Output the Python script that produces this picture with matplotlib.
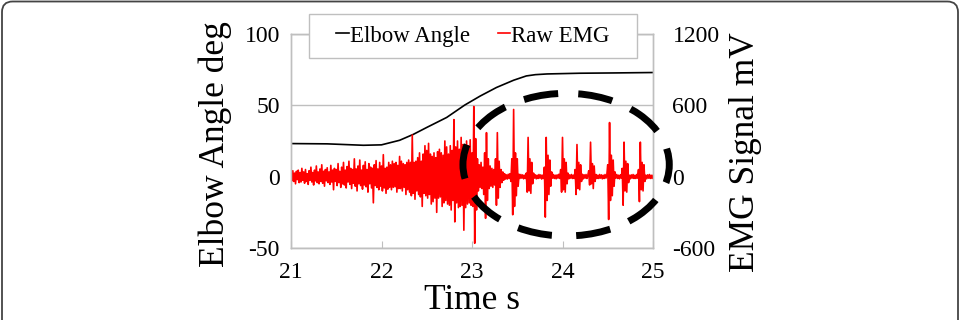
"""
Elbow angle and raw EMG signal vs time.
"""

import numpy as np
import matplotlib
matplotlib.use('Agg')
import matplotlib.pyplot as plt
from matplotlib.patches import Ellipse, Rectangle, FancyBboxPatch

plt.rcParams['font.family'] = ['Liberation Serif', 'DejaVu Serif']
plt.rcParams['axes.unicode_minus'] = False

# elbow angle (deg)
angle_t = [21.0, 21.4, 21.8, 22.0, 22.2, 22.35, 22.5, 22.72, 22.92, 23.09,
           23.27, 23.46, 23.6, 23.7, 23.83, 24.19, 24.56, 25.0]
angle = [23.2, 23.0, 22.0, 22.3, 25.5, 29.6, 34.5, 41.5, 50.2, 56.5,
         62.5, 67.6, 70.6, 71.5, 72.0, 72.5, 72.7, 73.0]

# raw EMG (mV), one value every 0.01 s
emg_21 = [20, -35, 50, -40, 30, -60, 45, -25, 55, -50,
          35, -45, 70, -30, 40, -55, 60, -40, 25, -65,
          50, -30, 80, -45, 35, -70, 55, -35, 90, -50,
          40, -60, 65, -40, 100, -55, 45, -80, 60, -35,
          75, -50, 40, -65, 95, -45, 55, -110, 70, -40,
          60, -75, 110, -50, 45, -90, 80, -60, 120, -70,
          55, -95, 85, -45, 130, -65, 70, -100, 60, -55,
          150, -80, 65, -120, 90, -60, 140, -75, 55, -105,
          95, -70, 125, -85, 60, -130, 110, -60, 80, -95,
          70, -220, 100, -75, 135, -90, 65, -110, 120, -80]
emg_22 = [90, -120, 185, -95, 70, -140, 80, -105, 120, -90,
          100, -110, 130, -90, 110, -85, 120, -130, 95, -100,
          170, -100, 130, -120, 110, -90, 100, -150, 120, -110,
          140, -130, 120, -160, 350, -140, 120, -190, 130, -120,
          160, -150, 200, -170, 130, -250, 190, -140, 260, -160,
          220, -180, 280, -150, 190, -230, 170, -210, 200, -180,
          160, -300, 210, -180, 230, -170, 200, -250, 180, -220,
          300, -200, 250, -230, 190, -240, 260, -280, 220, -200,
          480, -380, 250, -220, 300, -260, 230, -250, 330, -240,
          270, -450, 240, -260, 300, -230, 260, -220, 310, -240]
emg_23 = [200, -250, 590, -560, 320, -280, 150, -120, 100, -90,
          120, -100, 80, -150, 200, -350, 370, -200, 150, -100,
          90, -80, 70, -90, 60, -70, 150, -240, 370, -180,
          130, -90, 60, -50, 40, -30, 25, -20, 15, -20,
          20, -15, 25, -40, 150, -320, 565, -250, 200, -160,
          150, -80, 20, -15, 18, -12, 15, -18, 12, -15,
          30, -130, 330, -120, 150, -140, 120, -60, 30, -12,
          15, -18, 12, -15, 18, -12, 15, -20, 12, -15,
          80, -340, 330, -200, 180, -150, 140, -80, 40, -12,
          18, -15, 12, -18, 15, -12, 20, -15, 60, -130]
emg_24 = [330, -110, 150, -130, 120, -60, 30, -18, 15, -12,
          18, -15, 12, -15, 60, -150, 270, -100, 120, -110,
          100, -40, 20, -18, 15, -12, 18, -15, 12, 50,
          -70, 290, -60, 110, -100, 90, -40, 18, -15, 12,
          -15, 18, -12, 15, -18, 12, -15, 18, -12, 15,
          100, -360, 455, -200, 180, -160, 140, -80, 40, -12,
          18, -15, 12, -18, 15, -12, 70, -240, 290, -120,
          130, -130, 110, -50, 12, -18, 15, -12, 18, -15,
          12, -15, 18, -12, 60, -210, 290, -110, 120, -120,
          100, -40, 12, -18, 15, -12, 18, -15, 12, -15,
          10]

emg = emg_21 + emg_22 + emg_23 + emg_24
emg_t = np.linspace(21, 25, len(emg))

x_ticks = [21, 22, 23, 24, 25]
angle_ticks = [-50, 0, 50, 100]
emg_ticks = [-600, 0, 600, 1200]

grey = '#bfbfbf'

fig = plt.figure(figsize=(9.63, 3.2), dpi=100)
ax = fig.add_axes([291 / 963, 1 - 248 / 320, 362 / 963, 214 / 320])
ax2 = ax.twinx()

# 角度曲线
l1, = ax.plot(angle_t, angle, color='black', lw=1.2, label='Elbow Angle')
ax.set_xlim(21, 25)
ax.set_ylim(-50, 100)
ax.set_xticks(x_ticks)
ax.set_yticks(angle_ticks)
ax.yaxis.grid(True, color=grey, lw=1)
ax.set_axisbelow(True)

# EMG 信号
l2, = ax2.plot(emg_t, emg, color='#ff0000', lw=1.2, label='Raw EMG')
ax2.set_ylim(-600, 1200)
ax2.set_yticks(emg_ticks)

for a in (ax, ax2):
    for s in a.spines.values():
        s.set_color(grey)
        s.set_linewidth(1)
ax.tick_params(axis='x', direction='in', length=5, color=grey, labelsize=17, pad=10)
ax.tick_params(axis='y', length=0, labelsize=17, pad=8)
ax2.tick_params(axis='y', length=0, labelsize=17, pad=14)

ax.set_xlabel('Time s', fontsize=25.5, labelpad=0.5)
ax.set_ylabel('Elbow Angle deg', fontsize=25.5)
ax.yaxis.set_label_coords(-0.163, 0.484)
ax2.set_ylabel('EMG Signal mV', fontsize=25.5)
ax2.yaxis.set_label_coords(1.21, 0.449)

# 虚线椭圆标记
ell = Ellipse((24.04, 101), 2.28, 1200, transform=ax2.transData, fill=False,
              ec='black', lw=5, ls=(6.45, (5, 2.9)), clip_on=False, zorder=10)
ax2.add_patch(ell)

# 图例框
box = Rectangle((309 / 963, 1 - 58 / 320), 328 / 963, 44 / 320, transform=fig.transFigure,
                fc='white', ec=grey, lw=1, zorder=3)
fig.add_artist(box)
fig.legend(handles=[l1, l2], loc='center', bbox_to_anchor=(473 / 963, 1 - 36 / 320),
           ncol=2, frameon=False, fontsize=16.5, handlelength=0.55, handletextpad=0.05,
           columnspacing=1.2)

# 外边框 (下边在图外)
border = FancyBboxPatch((2 / 963, -0.2), 956 / 963, 1.2 - 1.5 / 320,
                        boxstyle='round,pad=0,rounding_size=0.011',
                        mutation_aspect=963 / 320, transform=fig.transFigure,
                        fill=False, ec='#444444', lw=1.3)
fig.add_artist(border)

fig.savefig('out.png', dpi=100)
